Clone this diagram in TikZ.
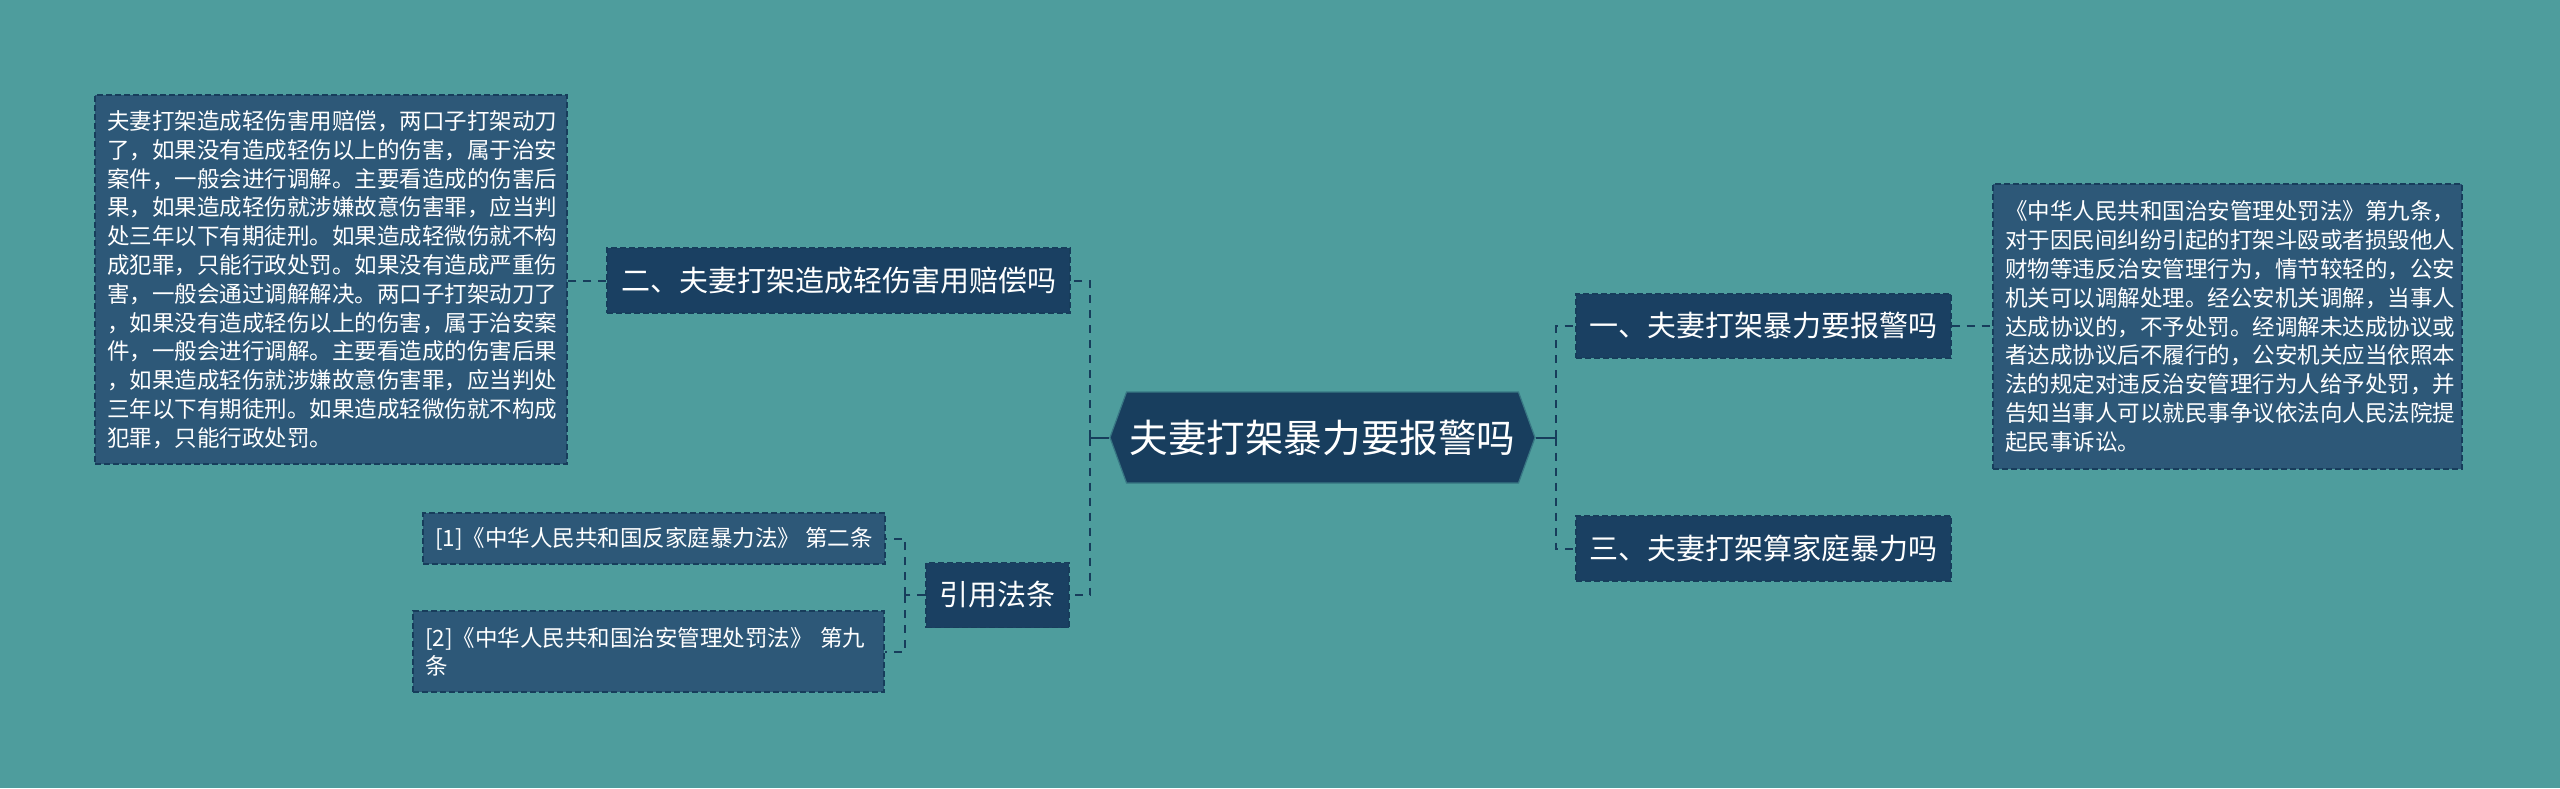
\documentclass[tikz,border=0pt]{standalone}
\usepackage{fontspec}
\setmainfont{Noto Sans CJK SC}
\usetikzlibrary{shapes.symbols}

\definecolor{bgteal}{HTML}{4E9D9D}
\definecolor{rootblue}{HTML}{183E5E}
\definecolor{topicblue}{HTML}{1A4062}
\definecolor{leafblue}{HTML}{2D5878}
\definecolor{linkblue}{HTML}{173D5B}

\begin{document}
\begin{tikzpicture}[x=0.5pt, y=-0.5pt,
    box/.style={rectangle, draw=linkblue, line width=0.7pt, dash pattern=on 3pt off 1.5pt, text=white, inner sep=0pt},
    topic/.style={box, fill=topicblue, font=\fontsize{14.5}{17}\selectfont},
    leaf/.style={box, fill=leafblue, align=left, inner xsep=6pt, font=\fontsize{11.25}{14.4}\selectfont},
    cite/.style={box, fill=leafblue, align=left, inner xsep=6pt, font=\fontsize{11.25}{14}\selectfont},
    link/.style={draw=linkblue, line width=1pt, dash pattern=on 4pt off 3.5pt},
    stub/.style={draw=linkblue, line width=1pt}]
    \path[use as bounding box, fill=bgteal] (0,0) rectangle (2560,788);

    % Nodes
    \node[signal, signal to=west and east, signal pointer angle=140, fill=rootblue, draw=bgteal!60!rootblue, line width=0.6pt,
          text=white, inner sep=0pt, minimum width=212.5pt, minimum height=45.5pt, font=\fontsize{19.3}{22}\selectfont]
          (root) at (1322.5,437.5) {夫妻打架暴力要报警吗};

    \node[topic, minimum width=231.5pt, minimum height=32.5pt] (injury) at (838.5,280.5) {二、夫妻打架造成轻伤害用赔偿吗};
    \node[topic, minimum width=71.5pt, minimum height=32.5pt] (laws) at (997.5,595) {引用法条};
    \node[topic, minimum width=187.5pt, minimum height=32pt] (police) at (1763.5,326) {一、夫妻打架暴力要报警吗};
    \node[topic, minimum width=187.5pt, minimum height=32.5pt] (domestic) at (1763.5,548.5) {三、夫妻打架算家庭暴力吗};

    \node[leaf, text width=224pt, minimum height=184.5pt] (injurytext) at (331,279.5) {%
        夫妻打架造成轻伤害用赔偿，两口子打架动刀\\
        了，如果没有造成轻伤以上的伤害，属于治安\\
        案件，一般会进行调解。主要看造成的伤害后\\
        果，如果造成轻伤就涉嫌故意伤害罪，应当判\\
        处三年以下有期徒刑。如果造成轻微伤就不构\\
        成犯罪，只能行政处罚。如果没有造成严重伤\\
        害，一般会通过调解解决。两口子打架动刀了\\
        ，如果没有造成轻伤以上的伤害，属于治安案\\
        件，一般会进行调解。主要看造成的伤害后果\\
        ，如果造成轻伤就涉嫌故意伤害罪，应当判处\\
        三年以下有期徒刑。如果造成轻微伤就不构成\\
        犯罪，只能行政处罚。};
    \node[leaf, text width=222.5pt, minimum height=142.5pt] (policetext) at (2227.5,326.5) {%
        《中华人民共和国治安管理处罚法》第九条，\\
        对于因民间纠纷引起的打架斗殴或者损毁他人\\
        财物等违反治安管理行为，情节较轻的，公安\\
        机关可以调解处理。经公安机关调解，当事人\\
        达成协议的，不予处罚。经调解未达成协议或\\
        者达成协议后不履行的，公安机关应当依照本\\
        法的规定对违反治安管理行为人给予处罚，并\\
        告知当事人可以就民事争议依法向人民法院提\\
        起民事诉讼。};

    \node[cite, align=center, minimum width=230pt, minimum height=25.5pt] (law1) at (654,538.5) {[1]《中华人民共和国反家庭暴力法》 第二条};
    \node[cite, text width=223.5pt, minimum height=40.5pt] (law2) at (648.5,651.5) {[2]《中华人民共和国治安管理处罚法》 第九\\条};

    % Links
    \coordinate (leftfork) at (1090,437.5);
    \coordinate (rightfork) at (1556,437.5);
    \coordinate (lawfork) at (905,595);

    \draw[stub] (root.west) -- (leftfork);
    \draw[link] (leftfork) |- (injury.east);
    \draw[link] (leftfork) |- (laws.east);
    \draw[link] (injury.west) -- (injury.west -| injurytext.east);

    \draw[link] (laws.west) -- (lawfork);
    \draw[link] (lawfork) |- (law1.east);
    \draw[link] (lawfork) |- (law2.east);

    \draw[stub] (root.east) -- (rightfork);
    \draw[link] (rightfork) |- (police.west);
    \draw[link] (rightfork) |- (domestic.west);
    \draw[link] (police.east) -- (police.east -| policetext.west);
\end{tikzpicture}
\end{document}
